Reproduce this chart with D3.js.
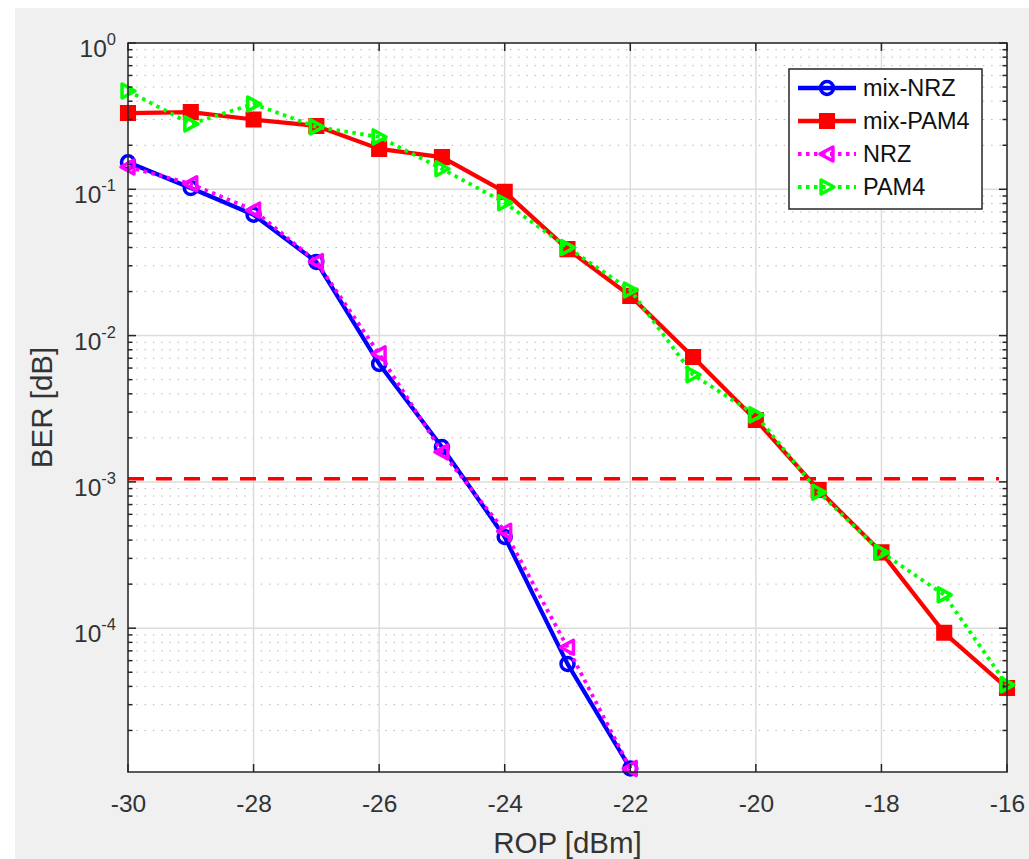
<!DOCTYPE html>
<html>
<head>
<meta charset="utf-8">
<script src="https://cdnjs.cloudflare.com/ajax/libs/d3/7.8.5/d3.min.js"></script>
<style>
  html, body { margin: 0; padding: 0; background: #ffffff; }
  svg { display: block; font-family: "Liberation Sans", Arial, Helvetica, sans-serif; }
</style>
</head>
<body>
<svg id="chart" width="1029" height="859"></svg>
<script>
// ---------------- data ----------------
const ropAll = [-30, -29, -28, -27, -26, -25, -24, -23, -22, -21, -20, -19, -18, -17, -16];
const ropNRZ = [-30, -29, -28, -27, -26, -25, -24, -23, -22];

const mixNRZ  = [0.153, 0.102, 0.067, 0.0319, 0.0064, 0.00173, 4.2e-4, 5.7e-5, 1.1e-5];
const mixPAM4 = [0.332, 0.337, 0.30, 0.271, 0.189, 0.166, 0.096, 0.039, 0.0187, 0.00714, 0.00265, 8.8e-4, 3.3e-4, 9.3e-5, 3.9e-5];
const nrz     = [0.142, 0.109, 0.072, 0.032, 0.0075, 0.0016, 4.6e-4, 7.4e-5, 1.1e-5];
const pam4    = [0.47, 0.28, 0.383, 0.267, 0.228, 0.138, 0.081, 0.040, 0.0205, 0.0054, 0.00287, 8.5e-4, 3.3e-4, 1.69e-4, 4.1e-5];

const threshold = 1.05e-3;

const xTicks = [-30, -28, -26, -24, -22, -20, -18, -16];
const yExps  = [0, -1, -2, -3, -4];
const xLabel = "ROP [dBm]";
const yLabel = "BER [dB]";

// ---------------- layout ----------------
const W = 1029, H = 859;
const L = 128, R = 1007, T = 43, B = 772;
const ink = "#262626";
const txt = "#333333";

const svg = d3.select("#chart");
svg.append("rect").attr("x", 15).attr("y", 8).attr("width", W - 15).attr("height", H - 8).attr("fill", "#f0f0f0");
svg.append("rect").attr("x", L).attr("y", T).attr("width", R - L).attr("height", B - T).attr("fill", "#ffffff");

const x = d3.scaleLinear().domain([-30, -16]).range([L, R]);
const y = d3.scaleLog().domain([1.04e-5, 1]).range([B, T]);

// minor y values
const minorY = [];
for (let e = -5; e < 0; e++) {
  for (let m = 2; m <= 9; m++) {
    const v = m * Math.pow(10, e);
    if (v >= y.domain()[0] && v <= 1) minorY.push(v);
  }
}
const majorY = yExps.map(e => Math.pow(10, e));

// grid
const grid = svg.append("g");
grid.selectAll(".minor").data(minorY).join("line")
  .attr("x1", L).attr("x2", R)
  .attr("y1", d => y(d)).attr("y2", d => y(d))
  .attr("stroke", "#b4b4b4").attr("stroke-width", 1)
  .attr("stroke-dasharray", "1.4,6.9");
grid.selectAll(".majY").data(majorY).join("line")
  .attr("x1", L).attr("x2", R)
  .attr("y1", d => y(d)).attr("y2", d => y(d))
  .attr("stroke", "#dcdcdc").attr("stroke-width", 1.5);
grid.selectAll(".majX").data(xTicks).join("line")
  .attr("y1", T).attr("y2", B)
  .attr("x1", d => x(d)).attr("x2", d => x(d))
  .attr("stroke", "#dcdcdc").attr("stroke-width", 1.5);

const plot = svg.append("g");

// threshold line
plot.append("line")
  .attr("x1", x(-30)).attr("x2", x(-16) - 8)
  .attr("y1", y(threshold)).attr("y2", y(threshold))
  .attr("stroke", "#ff0000").attr("stroke-width", 3.4)
  .attr("stroke-dasharray", "16,12");

// markers
function markerPath(kind, s) {
  if (kind === "square") return `M${-s},${-s}H${s}V${s}H${-s}Z`;
  if (kind === "left") return `M${-s},0L${s * 0.85},${-s}L${s * 0.85},${s}Z`;
  if (kind === "right") return `M${s},0L${-s * 0.85},${-s}L${-s * 0.85},${s}Z`;
  return null;
}

const series = [
  { name: "mix-NRZ",  xs: ropNRZ, ys: mixNRZ,  color: "#0000ff", dash: null,    marker: "circle" },
  { name: "mix-PAM4", xs: ropAll, ys: mixPAM4, color: "#ff0000", dash: null,    marker: "square" },
  { name: "NRZ",      xs: ropNRZ, ys: nrz,     color: "#ff00ff", dash: "3.5,4.5", marker: "left" },
  { name: "PAM4",     xs: ropAll, ys: pam4,    color: "#00ff00", dash: "3.5,4.5", marker: "right" }
];

const line = d3.line().x(d => x(d[0])).y(d => y(d[1]));

function drawMarker(g, kind, color, cx, cy) {
  if (kind === "circle") {
    g.append("circle").attr("cx", cx).attr("cy", cy).attr("r", 6.5)
      .attr("fill", "none").attr("stroke", color).attr("stroke-width", 3.5);
  } else if (kind === "square") {
    g.append("path").attr("d", markerPath("square", 6.3)).attr("transform", `translate(${cx},${cy})`)
      .attr("fill", color).attr("stroke", color).attr("stroke-width", 3.5);
  } else {
    g.append("path").attr("d", markerPath(kind, 7)).attr("transform", `translate(${cx},${cy})`)
      .attr("fill", "none").attr("stroke", color).attr("stroke-width", 3.5).attr("stroke-linejoin", "round");
  }
}

series.forEach(s => {
  const pts = s.xs.map((v, i) => [v, s.ys[i]]);
  const g = plot.append("g");
  g.append("path").datum(pts).attr("d", line)
    .attr("fill", "none").attr("stroke", s.color).attr("stroke-width", s.dash ? 3.8 : 4.2)
    .attr("stroke-dasharray", s.dash).attr("stroke-linejoin", "round");
  pts.forEach(p => drawMarker(g, s.marker, s.color, x(p[0]), y(p[1])));
});

// axes box
svg.append("rect").attr("x", L).attr("y", T).attr("width", R - L).attr("height", B - T)
  .attr("fill", "none").attr("stroke", ink).attr("stroke-width", 1.5);

// ticks
const tk = svg.append("g").attr("stroke", ink).attr("stroke-width", 1.5);
xTicks.forEach(v => {
  tk.append("line").attr("x1", x(v)).attr("x2", x(v)).attr("y1", B).attr("y2", B - 8);
  tk.append("line").attr("x1", x(v)).attr("x2", x(v)).attr("y1", T).attr("y2", T + 8);
});
majorY.forEach(v => {
  tk.append("line").attr("x1", L).attr("x2", L + 8).attr("y1", y(v)).attr("y2", y(v));
  tk.append("line").attr("x1", R).attr("x2", R - 8).attr("y1", y(v)).attr("y2", y(v));
});
minorY.forEach(v => {
  tk.append("line").attr("x1", L).attr("x2", L + 4.5).attr("y1", y(v)).attr("y2", y(v));
  tk.append("line").attr("x1", R).attr("x2", R - 4.5).attr("y1", y(v)).attr("y2", y(v));
});

// x tick labels via d3 axis
const xAxis = d3.axisBottom(x).tickValues(xTicks).tickSize(0).tickPadding(0).tickFormat(d3.format("d"));
const xg = svg.append("g").attr("transform", `translate(0,${B})`).call(xAxis);
xg.select(".domain").remove();
xg.selectAll("text").attr("y", 40).attr("dy", null)
  .attr("font-size", 24.5).attr("fill", txt)
  .attr("font-family", "'Liberation Sans', Arial, sans-serif")
  .text(d => d < 0 ? "-" + Math.abs(d) : d);

// y tick labels
const yl = svg.append("g").attr("fill", txt);
yExps.forEach(e => {
  const t = yl.append("text").attr("x", 116).attr("y", y(Math.pow(10, e)) + 14)
    .attr("text-anchor", "end").attr("font-size", 24.5);
  t.append("tspan").text("10");
  t.append("tspan").attr("dy", -12).attr("font-size", 16.5).text(e === 0 ? "0" : "-" + Math.abs(e));
});

// axis labels
svg.append("text").attr("x", (L + R) / 2).attr("y", 853).attr("text-anchor", "middle")
  .attr("font-size", 29.5).attr("fill", txt).text(xLabel);
svg.append("text").attr("transform", `translate(52,${(T + B) / 2}) rotate(-90)`)
  .attr("text-anchor", "middle").attr("font-size", 29.5).attr("fill", txt).text(yLabel);

// legend
const lg = svg.append("g");
lg.append("rect").attr("x", 789).attr("y", 69).attr("width", 193).attr("height", 140)
  .attr("fill", "#ffffff").attr("stroke", ink).attr("stroke-width", 1.5);
const legY = [88, 121, 154, 187];
series.forEach((s, i) => {
  const yy = legY[i];
  lg.append("line").attr("x1", 798).attr("x2", 856).attr("y1", yy).attr("y2", yy)
    .attr("stroke", s.color).attr("stroke-width", s.dash ? 4 : 4.5).attr("stroke-dasharray", s.dash);
  drawMarker(lg, s.marker, s.color, 827, yy);
  lg.append("text").attr("x", 863).attr("y", yy + 8).attr("font-size", 23.5).attr("fill", "#111111").text(s.name);
});
</script>
</body>
</html>
